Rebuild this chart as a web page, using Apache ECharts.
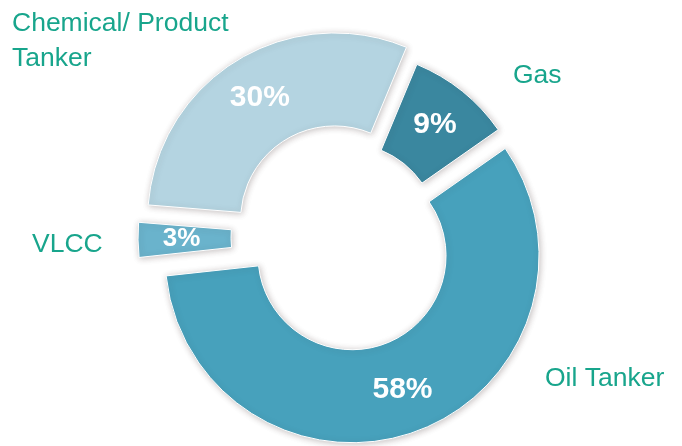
<!DOCTYPE html>
<html><head><meta charset="utf-8">
<script src="https://cdn.jsdelivr.net/npm/echarts@6/dist/echarts.min.js"></script>
<style>html,body{margin:0;padding:0;background:#fff}#c{width:682px;height:446px}</style>
</head><body><div id="c"></div>
<script>
// ---- data ----
const categories = ['Gas', 'Oil Tanker', 'VLCC', 'Chemical/ Product Tanker'];
const values = [9, 58, 3, 30];
const exploded = [false, true, true, true];
const nameLabels = ['Gas', 'Oil Tanker', 'VLCC', 'Chemical/ Product\nTanker'];

// ---- styles / layout ----
const colors = ['#3A879F', '#47A1BC', '#6AB3CC', '#B4D4E1'];
const pctFont = [30, 30, 26, 30];
const nameLabelPos = [[513, 76], [545, 379], [32, 245], [12, 41]];
const CENTER = [345, 237];
const RADIUS = [94, 187];
const FONT = '"Liberation Sans", Arial, Helvetica, sans-serif';

const chart = echarts.init(document.getElementById('c'), null, {renderer: 'canvas'});

const sliceData = categories.map((c, i) => ({
  name: c,
  value: values[i],
  selected: exploded[i],
  itemStyle: {color: colors[i]},
  label: {fontSize: pctFont[i]}
}));
const nameData = categories.map((c, i) => ({name: c, value: values[i]}));

chart.setOption({
  animation: false,
  backgroundColor: '#fff',
  series: [
    {
      type: 'pie',
      z: 2,
      center: CENTER,
      radius: RADIUS,
      startAngle: 67.4,
      clockwise: true,
      selectedMode: 'multiple',
      selectedOffset: 20,
      avoidLabelOverlap: false,
      silent: true,
      emphasis: {disabled: true},
      itemStyle: {
        borderColor: '#ffffff', borderWidth: 1,
        shadowBlur: 6, shadowColor: 'rgba(60,40,40,0.28)', shadowOffsetX: 1, shadowOffsetY: 1
      },
      select: {itemStyle: {borderColor: '#ffffff', borderWidth: 1}},
      label: {
        show: true, position: 'inside',
        formatter: p => Math.round(p.percent) + '%',
        color: '#ffffff', fontWeight: 'bold', fontFamily: FONT
      },
      labelLine: {show: false},
      data: sliceData
    },
    {
      type: 'pie',
      z: 1,
      center: CENTER,
      radius: RADIUS,
      startAngle: 67.4,
      clockwise: true,
      silent: true,
      avoidLabelOverlap: false,
      emphasis: {disabled: true},
      itemStyle: {color: 'rgba(0,0,0,0)', borderWidth: 0},
      label: {
        show: true, position: 'outside',
        formatter: p => nameLabels[p.dataIndex],
        color: '#18A58C', fontSize: 26.5, lineHeight: 35, fontFamily: FONT
      },
      labelLine: {show: false},
      labelLayout: p => ({
        x: nameLabelPos[p.dataIndex][0],
        y: nameLabelPos[p.dataIndex][1],
        align: 'left', verticalAlign: 'middle'
      }),
      data: nameData
    }
  ]
});
</script>
</body></html>
